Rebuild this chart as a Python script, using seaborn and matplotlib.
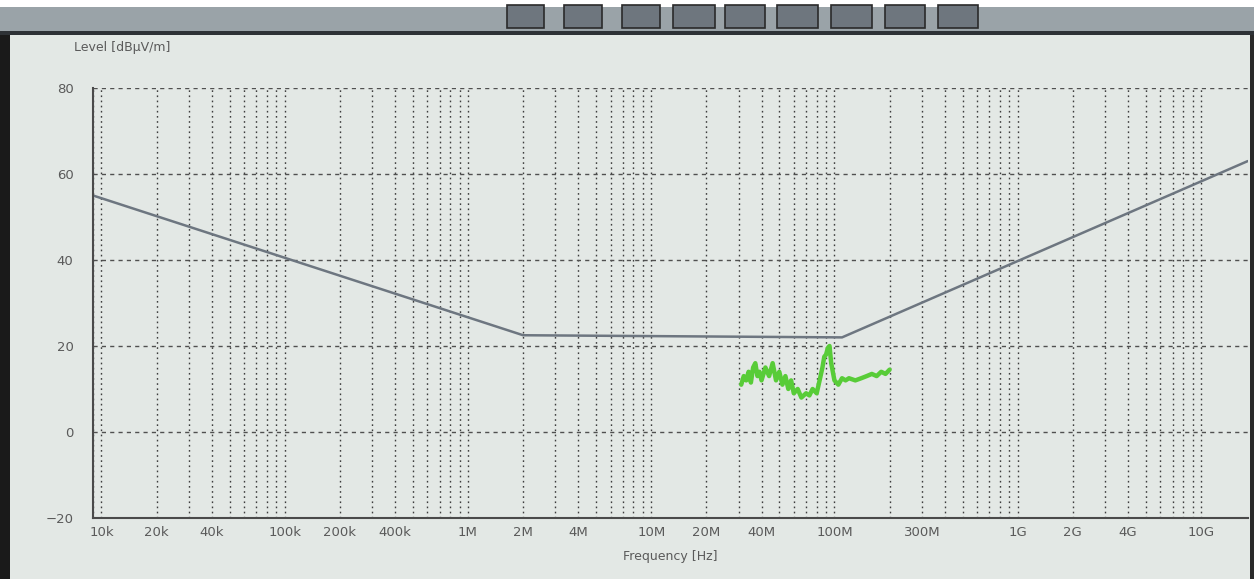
import numpy as np
import pandas as pd
import matplotlib
matplotlib.use("Agg")
import matplotlib.pyplot as plt
from matplotlib.patches import Rectangle
from matplotlib.ticker import FixedLocator, NullFormatter
import seaborn as sns

# ---- data ----
limit_freq_hz = [9e3, 2e6, 110e6, 18e9]
limit_level = [55, 22.5, 22, 63]

meas_freq_mhz = [31, 32, 33, 34, 35, 36, 37, 38, 39, 40, 42, 44, 46, 48, 50,
                 52, 54, 56, 58, 60, 63, 66, 70, 73, 76, 80, 83, 86, 88, 90, 92,
                 94, 96, 100, 105, 110, 115, 120, 130, 140, 150, 160, 170, 180, 190, 200]
meas_level = [11, 13, 12, 14, 11.5, 15, 16, 13, 14, 12, 15, 13, 16, 12, 14, 11,
              13, 10, 12, 9, 10, 8, 9, 8.5, 10, 9, 12, 15, 17.5, 18, 19.5, 20,
              16, 12, 11, 12.5, 12, 12.5, 12, 12.5, 13, 13.5, 13, 14, 13.5, 14.5]

tick_values = [1e4, 2e4, 4e4, 1e5, 2e5, 4e5, 1e6, 2e6, 4e6, 1e7, 2e7, 4e7,
               1e8, 3e8, 1e9, 2e9, 4e9, 1e10]
tick_labels = ["10k", "20k", "40k", "100k", "200k", "400k", "1M", "2M", "4M",
               "10M", "20M", "40M", "100M", "300M", "1G", "2G", "4G", "10G"]
y_ticks = [-20, 0, 20, 40, 60, 80]

limit_df = pd.DataFrame({"freq": limit_freq_hz, "level": limit_level})
meas_df = pd.DataFrame({"freq": np.array(meas_freq_mhz) * 1e6, "level": meas_level})

# ---- style ----
bg = "#e3e8e5"
sns.set_style("white", {"axes.facecolor": bg, "figure.facecolor": bg})
plt.rcParams["font.family"] = ["DejaVu Sans"]

fig = plt.figure(figsize=(12.54, 5.79), dpi=100)
ax = fig.add_axes([0.0742, 0.1054, 0.9208, 0.7426])
ax.set_xscale("log")

sns.lineplot(data=limit_df, x="freq", y="level", ax=ax, color="#6d7680",
             linewidth=1.8, estimator=None, sort=False)
sns.lineplot(data=meas_df, x="freq", y="level", ax=ax, color="#58cc38",
             linewidth=3.2, estimator=None, sort=False)

ax.set_xlim(9e3, 18e9)
ax.set_ylim(-20, 80)

# ticks
ax.xaxis.set_major_locator(FixedLocator(tick_values))
ax.set_xticklabels(tick_labels)
minor = [m * 10.0 ** e for e in range(3, 11) for m in range(1, 10)]
minor = [v for v in minor if 9e3 <= v <= 18e9]
ax.xaxis.set_minor_locator(FixedLocator(minor))
ax.xaxis.set_minor_formatter(NullFormatter())
ax.set_yticks(y_ticks)
ax.tick_params(axis="both", which="both", length=0, labelsize=9.5,
               labelcolor="#5a5a5a")
ax.tick_params(axis="y", pad=14)
ax.tick_params(axis="x", pad=6)

ax.grid(True, axis="x", which="both", linestyle=(0, (1.2, 2.5)),
        color="#3d3d3d", linewidth=1.0)
ax.grid(True, axis="y", which="major", linestyle=(0, (3, 3)),
        color="#505050", linewidth=1.0)
ax.set_axisbelow(True)

for s in ["top", "right"]:
    ax.spines[s].set_visible(False)
for s in ["left", "bottom"]:
    ax.spines[s].set_color("#4a4a4a")
    ax.spines[s].set_linewidth(1.5)

ax.set_xlabel("Frequency [Hz]", fontsize=9, color="#5a5a5a", labelpad=8)
ax.set_ylabel("")
fig.text(0.059, 0.918, "Level [dB\u00b5V/m]", fontsize=9, color="#5a5a5a",
         ha="left", va="center")

# photo frame decorations (screen bezel / toolbar)
fig.patches.append(Rectangle((0, 0), 0.008, 1, transform=fig.transFigure,
                             facecolor="#1a1a1a", edgecolor="none", zorder=-1))
fig.patches.append(Rectangle((0.997, 0), 0.003, 1, transform=fig.transFigure,
                             facecolor="#2a2a2a", edgecolor="none", zorder=-1))
fig.patches.append(Rectangle((0, 0.945), 1, 0.043, transform=fig.transFigure,
                             facecolor="#9aa3a8", edgecolor="none", zorder=-1))
fig.patches.append(Rectangle((0, 0.940), 1, 0.007, transform=fig.transFigure,
                             facecolor="#2e3236", edgecolor="none", zorder=-1))
fig.patches.append(Rectangle((0, 0.988), 1, 0.012, transform=fig.transFigure,
                             facecolor="#ffffff", edgecolor="none", zorder=-1))
for bx, bw in [(0.404, 0.030), (0.450, 0.030), (0.496, 0.030), (0.537, 0.033),
               (0.578, 0.032), (0.620, 0.032), (0.663, 0.032), (0.706, 0.032),
               (0.748, 0.032)]:
    fig.patches.append(Rectangle((bx, 0.952), bw, 0.040, transform=fig.transFigure,
                                 facecolor="#6e767e", edgecolor="#2a2a2a",
                                 linewidth=1.2, zorder=-1))

fig.savefig("out.png", dpi=100, facecolor=bg)
